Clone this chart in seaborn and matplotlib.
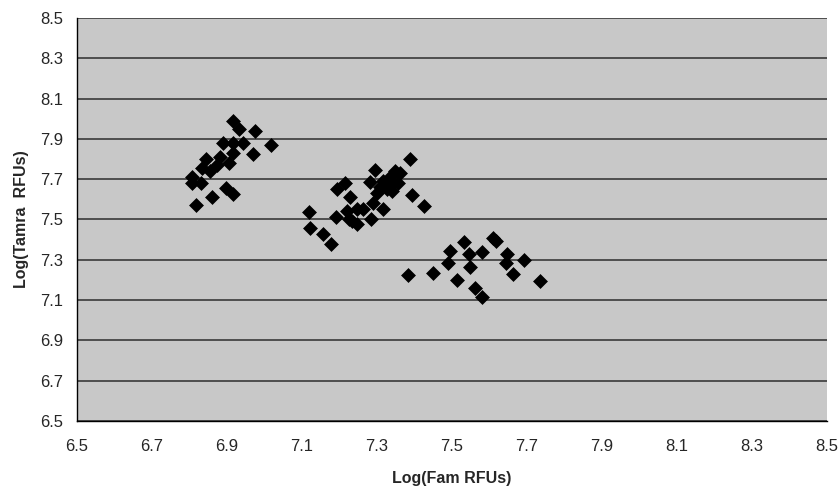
import pandas as pd
import matplotlib.pyplot as plt
import seaborn as sns

# Log(Fam RFUs) / Log(Tamra RFUs) values, grouped by cluster
fam_1 = [6.917, 6.932, 6.975, 7.016, 6.890, 6.917, 6.942, 6.970, 6.915, 6.880, 6.906,
         6.843, 6.872, 6.832, 6.855, 6.806, 6.806, 6.830, 6.897, 6.917, 6.859, 6.817]
tamra_1 = [7.99, 7.95, 7.94, 7.87, 7.88, 7.88, 7.88, 7.825, 7.83, 7.81, 7.78,
           7.80, 7.77, 7.755, 7.74, 7.71, 7.68, 7.68, 7.655, 7.625, 7.61, 7.57]

fam_2 = [7.388, 7.295, 7.348, 7.361, 7.281, 7.215, 7.192, 7.317, 7.335, 7.343, 7.357,
         7.308, 7.326, 7.299, 7.339, 7.392, 7.228, 7.426, 7.290, 7.315, 7.119, 7.219,
         7.246, 7.262, 7.191, 7.224, 7.233, 7.247, 7.283, 7.121, 7.155, 7.177]
tamra_2 = [7.80, 7.745, 7.74, 7.733, 7.687, 7.68, 7.65, 7.69, 7.71, 7.68, 7.68,
           7.66, 7.65, 7.63, 7.64, 7.62, 7.61, 7.565, 7.583, 7.55, 7.537, 7.54,
           7.55, 7.55, 7.51, 7.50, 7.49, 7.48, 7.50, 7.46, 7.43, 7.38]

fam_3 = [7.610, 7.617, 7.532, 7.495, 7.546, 7.581, 7.647, 7.644, 7.693, 7.488, 7.548,
         7.382, 7.450, 7.662, 7.512, 7.735, 7.561, 7.579]
tamra_3 = [7.409, 7.392, 7.389, 7.342, 7.328, 7.338, 7.328, 7.283, 7.30, 7.283, 7.262,
           7.225, 7.233, 7.228, 7.20, 7.192, 7.159, 7.117]

ticks = [6.5, 6.7, 6.9, 7.1, 7.3, 7.5, 7.7, 7.9, 8.1, 8.3, 8.5]
tick_labels = ['6.5', '6.7', '6.9', '7.1', '7.3', '7.5', '7.7', '7.9', '8.1', '8.3', '8.5']

df = pd.DataFrame({
    'fam': fam_1 + fam_2 + fam_3,
    'tamra': tamra_1 + tamra_2 + tamra_3,
})

sns.set_style('white')
plt.rcParams['font.family'] = ['Liberation Sans', 'DejaVu Sans']

fig = plt.figure(figsize=(8.4, 4.91), dpi=100)
ax = fig.add_axes([0.0917, 0.143, 0.8928, 0.820])
ax.set_facecolor('#c8c8c8')

for y in ticks:
    ax.axhline(y, color='#2e2e2e', linewidth=1.1, zorder=1)

sns.scatterplot(data=df, x='fam', y='tamra', marker='D', s=50, color='black',
                edgecolor='black', linewidth=0.5, ax=ax, zorder=3)

ax.set_xlim(6.5, 8.5)
ax.set_ylim(6.5, 8.5)
ax.set_xticks(ticks)
ax.set_xticklabels(tick_labels, fontsize=12)
ax.set_yticks(ticks)
ax.set_yticklabels(tick_labels, fontsize=12)
ax.tick_params(axis='both', direction='out', length=4, width=0.8, color='black', pad=6)
ax.tick_params(axis='x', pad=9)

for side in ['top', 'right']:
    ax.spines[side].set_visible(False)
for side in ['left', 'bottom']:
    ax.spines[side].set_color('black')
    ax.spines[side].set_linewidth(1.0)

ax.set_xlabel('Log(Fam RFUs)', fontsize=11.5, fontweight='bold', labelpad=12)
ax.set_ylabel('Log(Tamra  RFUs)', fontsize=11.5, fontweight='bold', labelpad=8)

fig.savefig('out.png', dpi=100)
